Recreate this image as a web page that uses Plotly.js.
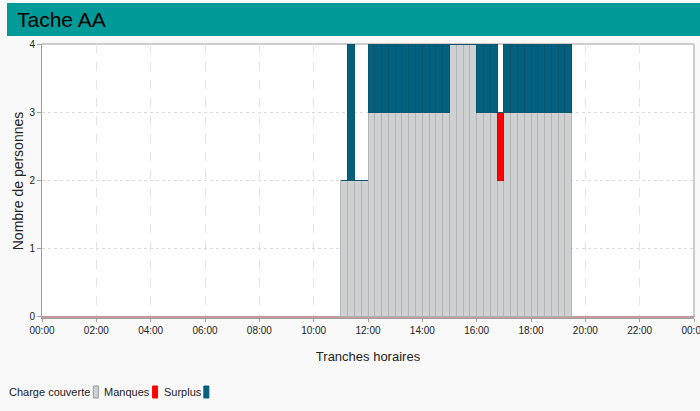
<!DOCTYPE html>
<html>
<head>
<meta charset="utf-8">
<script src="https://cdn.plot.ly/plotly-3.0.1.min.js"></script>
<style>
html,body{margin:0;padding:0;background:#f9f9f9;}
#chart{width:700px;height:411px;}
</style>
</head>
<body>
<div id="chart"></div>
<script>
const slots = ["11:00","11:15","11:30","11:45","12:00","12:15","12:30","12:45",
  "13:00","13:15","13:30","13:45","14:00","14:15","14:30","14:45",
  "15:00","15:15","15:30","15:45","16:00","16:15","16:30","16:45",
  "17:00","17:15","17:30","17:45","18:00","18:15","18:30","18:45","19:00","19:15"];
const chargeCouverte = [2,2,2,2, 3,3,3,3, 3,3,3,3, 3,3,3,3, 4,4,4,4, 3,3,3,2, 3,3,3,3, 3,3,3,3, 3,3];
const manques        = [0,0,0,0, 0,0,0,0, 0,0,0,0, 0,0,0,0, 0,0,0,0, 0,0,0,1, 0,0,0,0, 0,0,0,0, 0,0];
const surplus        = [0,2,0,0, 1,1,1,1, 1,1,1,1, 1,1,1,1, 0,0,0,0, 1,1,1,0, 1,1,1,1, 1,1,1,1, 1,1];
const tickHours = [0,2,4,6,8,10,12,14,16,18,20,22,24];
const tickLabels = ["00:00","02:00","04:00","06:00","08:00","10:00","12:00","14:00","16:00","18:00","20:00","22:00","00:00"];
const seriesNames = ["Charge couverte","Manques","Surplus"];

const slotLen = 0.25;
const xs = slots.map(s => { const p = s.split(":"); return +p[0] + (+p[1])/60 + slotLen/2; });
const sans = "Liberation Sans, Arial, sans-serif";
const colors = ["#cfd0d2","#ff0000","#04607f"];
const lines = ["#b3b4b6","#e00000","#0a566f"];

const traces = [chargeCouverte, manques, surplus].map((v,i)=>({
  type:"bar", x:xs, y:v, width:slotLen, name:seriesNames[i],
  marker:{color:colors[i], line:{color:lines[i], width:1}},
  hoverinfo:"skip", showlegend:false
}));

const L = 42, R = 694, T = 44, B = 318;
const px = x => (x - L)/(R - L);
const py = y => (B - y)/(B - T);

const shapes = [
  {type:"rect", xref:"paper", yref:"paper", x0:px(7), x1:px(700), y0:py(36), y1:py(3),
   fillcolor:"#009a98", line:{width:0}, layer:"above"},
  {type:"line", xref:"paper", yref:"paper", x0:0, x1:1, y0:1, y1:1, line:{color:"#cccccc", width:2}, layer:"below"},
  {type:"line", xref:"paper", yref:"paper", x0:1, x1:1, y0:0, y1:1, line:{color:"#cccccc", width:2}, layer:"below"}
];
const annotations = [];
// legend: text followed by its swatch (measured text widths)
const legendFontSize = 11;
const ctx = document.createElement("canvas").getContext("2d");
ctx.font = legendFontSize + "px 'Liberation Sans', Arial, sans-serif";
let cursor = 8;
seriesNames.forEach((name,i)=>{
  const w = ctx.measureText(name).width;
  annotations.push({xref:"paper", yref:"paper", x:px(cursor), y:py(392), xanchor:"left", yanchor:"middle",
    text:name, showarrow:false, borderpad:0, font:{family:sans, size:legendFontSize, color:"#222"}});
  const sw = cursor + w + 4;
  shapes.push({type:"rect", xref:"paper", yref:"paper", x0:px(sw), x1:px(sw+5), y0:py(398), y1:py(386),
    fillcolor:colors[i], line:{color:i===0?"#999":colors[i], width:1}});
  cursor = sw + 10;
});

const layout = {
  width:700, height:411,
  margin:{l:L, r:700-R, t:T, b:411-B, pad:0},
  paper_bgcolor:"#f9f9f9", plot_bgcolor:"#ffffff",
  barmode:"stack", bargap:0,
  title:{text:"Tache AA", xref:"container", yref:"container", x:17/700, xanchor:"left",
    y:1-20/411, yanchor:"middle", font:{family:sans, size:21, color:"#000"}},
  xaxis:{range:[0,24], tickvals:tickHours, ticktext:tickLabels, showgrid:true, gridcolor:"#e4e4e4",
    griddash:"dash", zeroline:false, showline:true, linecolor:"#a0a0a0", linewidth:1,
    ticks:"outside", ticklen:3, tickcolor:"#a0a0a0", ticklabeloverflow:"allow",
    tickfont:{family:sans, size:10, color:"#222"},
    title:{text:"Tranches horaires", font:{family:sans, size:13, color:"#222"}, standoff:16},
    fixedrange:true},
  yaxis:{range:[-0.015,4], tickvals:[0,1,2,3,4], showgrid:true, gridcolor:"#dcdcdc", griddash:"dot",
    zeroline:true, zerolinecolor:"#c49898", zerolinewidth:1.5,
    showline:true, linecolor:"#a0a0a0", linewidth:1, ticks:"outside", ticklen:4, tickcolor:"#a0a0a0",
    tickfont:{family:sans, size:10, color:"#222"},
    title:{text:"Nombre de personnes", font:{family:sans, size:14, color:"#222"}, standoff:2},
    fixedrange:true},
  shapes:shapes, annotations:annotations, showlegend:false
};
Plotly.newPlot("chart", traces, layout, {staticPlot:true, displayModeBar:false});
</script>
</body>
</html>
